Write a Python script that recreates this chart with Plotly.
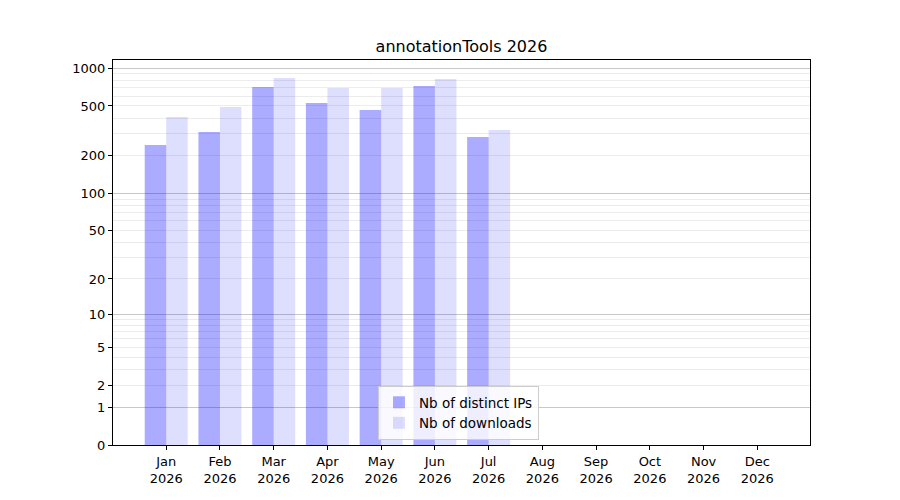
import plotly.graph_objects as go

months = ['Jan', 'Feb', 'Mar', 'Apr', 'May', 'Jun', 'Jul', 'Aug', 'Sep', 'Oct', 'Nov', 'Dec']
year = '2026'
distinct_ips = [244, 310, 709, 529, 465, 722, 283]
downloads = [409, 491, 837, 697, 697, 822, 322]

tick_values = [0, 1, 2, 5, 10, 20, 50, 100, 200, 500, 1000]
major_grid = [1, 10, 100, 1000]
minor_grid = [m * d for d in (1, 10, 100) for m in range(2, 10)]

x_idx = list(range(len(months)))
x_labels = [m + '<br>' + year for m in months]

# axis is log10(1 + value), so everything is shifted by one on a log axis
fig = go.Figure()
fig.add_trace(go.Bar(x=x_idx[:len(distinct_ips)], y=[v + 1 for v in distinct_ips],
                     name='Nb of distinct IPs', marker_color='rgba(0,0,255,0.33)',
                     marker_line_width=0))
fig.add_trace(go.Bar(x=x_idx[:len(downloads)], y=[v + 1 for v in downloads],
                     name='Nb of downloads', marker_color='rgba(0,0,255,0.13)',
                     marker_line_width=0))

# page body has an 8px margin, so margins are shifted by 8
fig.update_layout(
    width=900, height=500,
    margin=dict(l=105, r=98, t=52, b=63),
    paper_bgcolor='white', plot_bgcolor='white',
    font=dict(family='DejaVu Sans', size=13, color='black'),
    title=dict(text='annotationTools 2026', x=453.5 / 900, xanchor='center',
               y=1 - 38 / 500, yanchor='middle', font=dict(size=16)),
    barmode='group', bargap=0.2, bargroupgap=0,
    showlegend=True,
    legend=dict(x=(378 - 113) / 697, y=(445 - 440) / 385, xanchor='left', yanchor='bottom',
                bgcolor='rgba(255,255,255,0.8)', bordercolor='#cccccc', borderwidth=1,
                font=dict(size=13.5), tracegroupgap=2),
)

fig.update_xaxes(
    range=[-0.99, 11.98], tickmode='array', tickvals=x_idx, ticktext=x_labels,
    showgrid=False, showline=True, linecolor='black', linewidth=1, mirror=True,
    ticks='outside', ticklen=4, tickcolor='black', zeroline=False,
)
fig.update_yaxes(
    type='log', range=[0, 3.066],
    tickmode='array', tickvals=[v + 1 for v in tick_values], ticktext=[str(v) for v in tick_values],
    showgrid=False, showline=True, linecolor='black', linewidth=1, mirror=True,
    ticks='outside', ticklen=4, tickcolor='black', zeroline=False,
    minor=dict(tickmode='array', tickvals=[v + 1 for v in minor_grid], showgrid=True,
               gridcolor='#ececec', gridwidth=1, ticklen=0),
    layer='above traces',
)

# darker grid lines at 1, 10, 100, 1000 on an overlaid axis
fig.update_layout(yaxis2=dict(
    overlaying='y', type='log', range=[0, 3.066], tickmode='array',
    tickvals=[v + 1 for v in major_grid], showticklabels=False, ticks='',
    showgrid=True, gridcolor='#c8c8c8', gridwidth=1, zeroline=False, showline=False,
))
fig.add_trace(go.Scatter(x=[None], y=[None], yaxis='y2', showlegend=False, hoverinfo='skip'))

fig.write_html('out.html')
